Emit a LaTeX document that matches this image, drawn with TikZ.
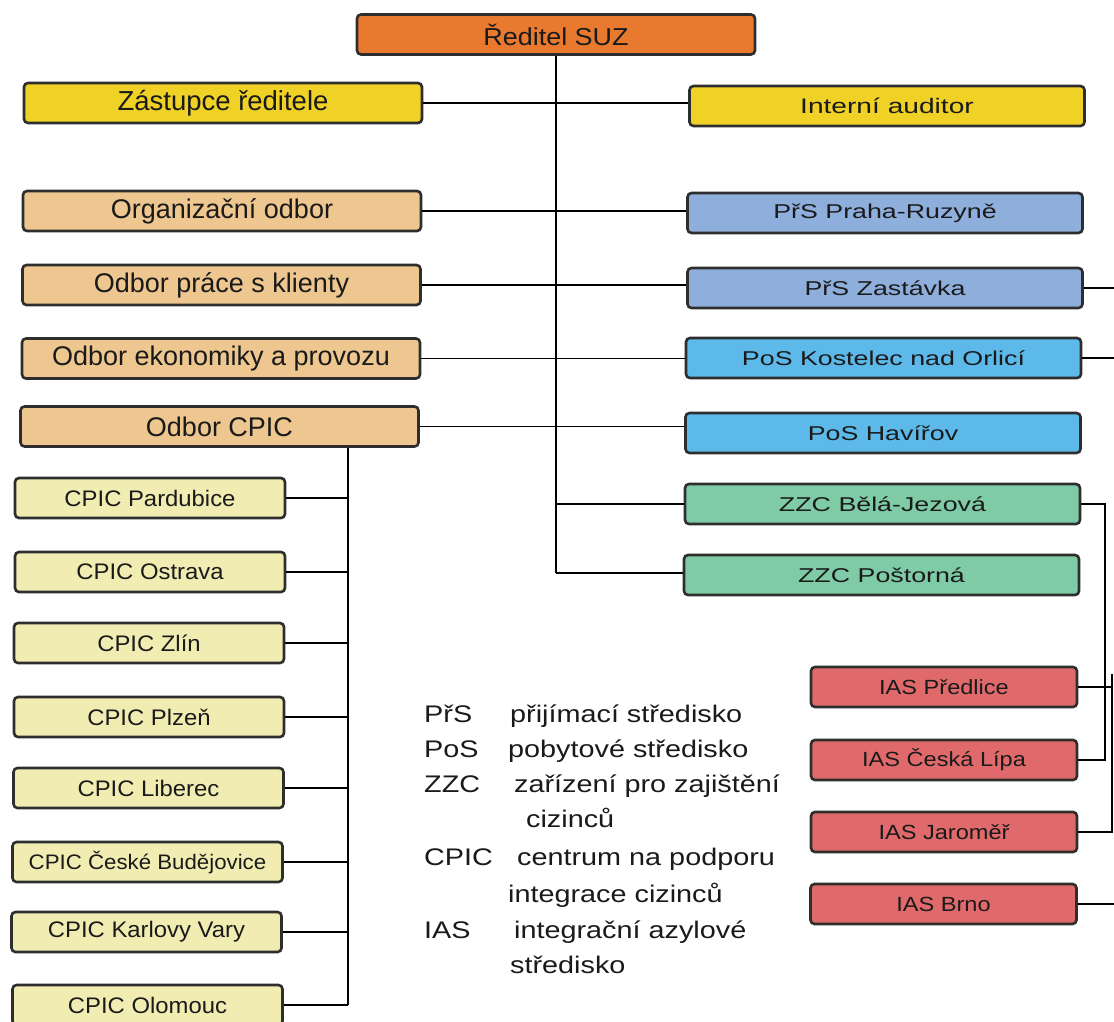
\documentclass[tikz,border=0pt]{standalone}
\usepackage{fontspec}
\setmainfont{Liberation Sans}
\newfontfamily\lfontA{Liberation Sans}
\newfontfamily\rfont[FakeStretch=1.34]{Liberation Sans}
\newfontfamily\dfont[FakeStretch=1.1]{Liberation Sans}
\newfontfamily\cfont[FakeStretch=1.06]{Liberation Sans}
\newfontfamily\ifont[FakeStretch=1.15]{Liberation Sans}
\newfontfamily\legfont[FakeStretch=1.2]{Liberation Sans}
\definecolor{cdir}{HTML}{E8792F}
\definecolor{cyel}{HTML}{F0D226}
\definecolor{ctan}{HTML}{EEC68F}
\definecolor{cprs}{HTML}{8EAEDC}
\definecolor{cpos}{HTML}{5DB9EA}
\definecolor{czzc}{HTML}{7FCBA6}
\definecolor{cias}{HTML}{E06A6B}
\definecolor{ccpic}{HTML}{F1EDB2}
\definecolor{cbord}{HTML}{2E2E2E}
\definecolor{ctext}{HTML}{1A1A1A}
\tikzset{
  box/.style={draw=cbord, line width=2.6pt, rounded corners=4pt, inner sep=0pt, text=ctext, minimum height=40pt},
  leftbox/.style={box, fill=ctan, minimum width=398pt, font=\lfontA\fontsize{27}{29}\selectfont},
  rightbox/.style={box, minimum width=395pt, font=\rfont\fontsize{20}{22}\selectfont},
  cpicbox/.style={box, fill=ccpic, minimum width=270pt, font=\cfont\fontsize{22.5}{24}\selectfont},
  iasbox/.style={box, fill=cias, minimum width=266pt, font=\ifont\fontsize{20.5}{22}\selectfont},
  conn/.style={line width=1.8pt, black},
  legtext/.style={anchor=base west, inner sep=0pt, text=ctext, font=\legfont\fontsize{24}{26}\selectfont}
}
\begin{document}
\begin{tikzpicture}[x=1pt,y=-1pt]
\useasboundingbox (0,0) rectangle (1114,1021);
\clip (0,0) rectangle (1114,1021);
\fill[white] (0,0) rectangle (1114,1021);

% top
\node[box, fill=cdir, minimum width=398pt, font=\dfont\fontsize{24.5}{26}\selectfont] (dir) at (556,34.5) {Ředitel SUZ};
\node[box, fill=cyel, minimum width=398pt, font=\lfontA\fontsize{27.5}{29}\selectfont] (zast) at (223,103) {Zástupce ředitele};
\node[rightbox, fill=cyel, font=\rfont\fontsize{21}{23}\selectfont] (aud) at (887,106) {Interní auditor};

% left departments
\node[leftbox] (org) at (222,211) {Organizační odbor};
\node[leftbox] (kli) at (221.5,285) {Odbor práce s klienty};
\node[leftbox] (eko) at (221,358.5) {Odbor ekonomiky a provozu};
\node[leftbox] (cpo) at (219.5,426.5) {Odbor CPIC};

% right facilities
\node[rightbox, fill=cprs] (prr) at (885,213) {PřS Praha-Ruzyně};
\node[rightbox, fill=cprs] (prz) at (885,288) {PřS Zastávka};
\node[rightbox, fill=cpos] (pok) at (883.5,358) {PoS Kostelec nad Orlicí};
\node[rightbox, fill=cpos] (poh) at (883,433) {PoS Havířov};
\node[rightbox, fill=czzc] (zbj) at (882.5,504) {ZZC Bělá-Jezová};
\node[rightbox, fill=czzc] (zpo) at (881.5,575) {ZZC Poštorná};

% CPIC
\node[cpicbox] (c1) at (150,498) {CPIC Pardubice};
\node[cpicbox] (c2) at (150,572) {CPIC Ostrava};
\node[cpicbox] (c3) at (149,643) {CPIC Zlín};
\node[cpicbox] (c4) at (149,717) {CPIC Plzeň};
\node[cpicbox] (c5) at (148.5,788) {CPIC Liberec};
\node[cpicbox, font=\cfont\fontsize{21}{23}\selectfont] (c6) at (147.5,862) {CPIC České Budějovice};
\node[cpicbox] (c7) at (146.5,932) {CPIC Karlovy Vary};
\node[cpicbox] (c8) at (147.5,1005) {CPIC Olomouc};

% IAS
\node[iasbox] (i1) at (944,687) {IAS Předlice};
\node[iasbox] (i2) at (944,760) {IAS Česká Lípa};
\node[iasbox] (i3) at (944,832) {IAS Jaroměř};
\node[iasbox] (i4) at (943.5,904) {IAS Brno};

% trunk
\coordinate (tb) at (555,573);
\draw[conn] (dir.south) -- (dir.south |- tb);
\draw[conn] (zast.east) -- (zast.east -| aud.west);
\draw[conn] (org.east) -- (org.east -| prr.west);
\draw[conn] (kli.east) -- (kli.east -| prz.west);
\draw[conn] (eko.east) -- (eko.east -| pok.west);
\draw[conn] (cpo.east) -- (cpo.east -| poh.west);
\draw[conn] (dir.south |- zbj.west) -- (zbj.west);
\draw[conn] (dir.south |- tb) -- (tb -| zpo.west);

% right edge lines
\coordinate (e1) at (1114,288);
\coordinate (e2) at (1114,358);
\coordinate (e3) at (1114,904);
\draw[conn] (prz.east) -- (e1);
\draw[conn] (pok.east) -- (e2);
\draw[conn] (i4.east) -- (e3);

% IAS connectors
\coordinate (v1) at (1105,504);
\coordinate (v2) at (1112,674);
\draw[conn] (zbj.east) -- (v1) -- (v1 |- i2.east) -- (i2.east);
\draw[conn] (i1.east) -- (i1.east -| v2);
\draw[conn] (v2) -- (v2 |- i3.east) -- (i3.east);

% CPIC vertical
\coordinate (cv) at (348,1005);
\draw[conn] (cpo.south -| cv) -- (cv);
\foreach \n in {c1,c2,c3,c4,c5,c6,c7,c8}{
  \draw[conn] (\n.east) -- (\n.east -| cv);
}

% legend
\node[legtext] (la1) at (424,722) {PřS};
\node[legtext] (lb1) at (510,722) {přijímací středisko};
\node[legtext] (la2) at (424,757) {PoS};
\node[legtext] (lb2) at (508,757) {pobytové středisko};
\node[legtext] (la3) at (424,792) {ZZC};
\node[legtext] (lb3) at (514,792) {zařízení pro zajištění};
\node[legtext] (lb3b) at (526,827) {cizinců};
\node[legtext] (la4) at (424,865) {CPIC};
\node[legtext] (lb4) at (517,865) {centrum na podporu};
\node[legtext] (lb4b) at (508,902) {integrace cizinců};
\node[legtext] (la5) at (424,938) {IAS};
\node[legtext] (lb5) at (514,938) {integrační azylové};
\node[legtext] (lb5b) at (510,973) {středisko};
\end{tikzpicture}
\end{document}
